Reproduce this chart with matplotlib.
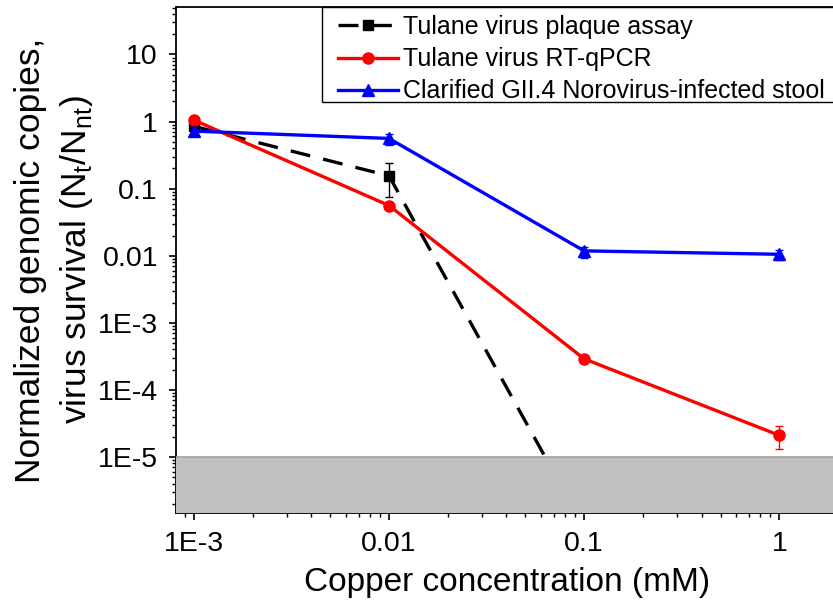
import matplotlib
matplotlib.use("Agg")
import numpy as np
import matplotlib.pyplot as plt
from matplotlib.lines import Line2D
from matplotlib.patches import Rectangle
from matplotlib.ticker import LogLocator, NullFormatter, FixedLocator

plt.rcParams['font.family'] = ['Liberation Sans', 'DejaVu Sans']

# copper concentration (mM)
conc = [0.001, 0.01, 0.1, 1]

# Tulane virus plaque assay (last point is below the detection limit)
plaque_x = [0.001, 0.01, 0.1]
plaque_y = [0.85, 0.155, 9e-7]
plaque_lo = [0.10, 0.08, 0.0]
plaque_hi = [0.10, 0.085, 0.0]

# Tulane virus RT-qPCR
qpcr_y = [1.05, 0.056, 2.9e-4, 2.1e-5]
qpcr_lo = [0.08, 0.008, 0.2e-4, 0.8e-5]
qpcr_hi = [0.08, 0.008, 0.2e-4, 0.8e-5]

# clarified GII.4 norovirus-infected stool
stool_y = [0.72, 0.56, 0.0118, 0.0105]
stool_lo = [0.12, 0.11, 0.0025, 0.002]
stool_hi = [0.08, 0.10, 0.0015, 0.0015]

detection_limit = 1e-5

ytick_vals = [10, 1, 0.1, 0.01, 1e-3, 1e-4, 1e-5]
ytick_labels = ['10', '1', '0.1', '0.01', '1E-3', '1E-4', '1E-5']
xtick_vals = [0.001, 0.01, 0.1, 1]
xtick_labels = ['1E-3', '0.01', '0.1', '1']

W, H = 833, 609
fig = plt.figure(figsize=(W / 100, H / 100), dpi=100)
left, right, top, bottom = 176, 838, 7, 513
ax = fig.add_axes([left / W, 1 - bottom / H, (right - left) / W, (bottom - top) / H])


def ax_frac(xpix, ypix):
    # pixel position on the canvas -> axes fraction
    return (xpix - left) / (right - left), (bottom - ypix) / (bottom - top)


ax.set_xscale('log')
ax.set_yscale('log')
ax.set_xlim(8.1e-4, 2.0)
ax.set_ylim(1.46e-6, 51)

ax.axhspan(ax.get_ylim()[0], detection_limit, color='#c0c0c0', zorder=5, lw=0)
ax.axhline(detection_limit, color='#a0a0a0', lw=1.2, zorder=5)

series = [
    (plaque_x, plaque_y, plaque_lo, plaque_hi, 'black', (0, (6, 4)), 's', 7,
     'Tulane virus plaque assay'),
    (conc, qpcr_y, qpcr_lo, qpcr_hi, '#ff0000', '-', 'o', 8,
     'Tulane virus RT-qPCR'),
    (conc, stool_y, stool_lo, stool_hi, '#0000ff', '-', '^', 9,
     'Clarified GII.4 Norovirus-infected stool'),
]
handles = []
for xs, ys, lo, hi, col, ls, mk, ms, lab in series:
    ax.errorbar(xs, ys, yerr=[lo, hi], color=col, ls=ls, lw=2.4, marker=mk, ms=ms,
                capsize=3, elinewidth=1, zorder=3)
    handles.append(Line2D([], [], color=col, ls=ls, lw=2.4, marker=mk, ms=ms, label=lab))

ax.yaxis.set_major_locator(FixedLocator(ytick_vals))
ax.set_yticklabels(ytick_labels)
ax.yaxis.set_minor_locator(LogLocator(base=10, subs=np.arange(2, 10), numticks=20))
ax.yaxis.set_minor_formatter(NullFormatter())
ax.xaxis.set_major_locator(FixedLocator(xtick_vals))
ax.set_xticklabels(xtick_labels)
ax.xaxis.set_minor_locator(LogLocator(base=10, subs=np.arange(2, 10), numticks=20))
ax.xaxis.set_minor_formatter(NullFormatter())

ax.tick_params(which='major', direction='out', length=5, width=1.2, labelsize=20.5, pad=8)
ax.tick_params(which='minor', direction='out', length=3, width=1)
for s in ax.spines.values():
    s.set_linewidth(1.3)

ax.set_xlabel('Copper concentration (mM)', fontsize=24, labelpad=7)
ax.set_ylabel('Normalized genomic copies,\nvirus survival (N$_\\mathregular{t}$/N$_\\mathregular{nt}$)',
              fontsize=25.5, labelpad=2, linespacing=1.4)

# legend box: white panel with black border, running off the right edge
x0, y0 = ax_frac(322, 102)
x1, y1 = ax_frac(845, top)
ax.add_patch(Rectangle((x0, y0), x1 - x0, y1 - y0, transform=ax.transAxes,
                       facecolor='white', edgecolor='black', lw=1.0, zorder=9,
                       clip_on=False))
leg = ax.legend(handles=handles, loc='upper left', bbox_to_anchor=ax_frac(338, 15),
                borderaxespad=0, borderpad=0, fontsize=18, frameon=False,
                handlelength=2.4, handletextpad=0.2, labelspacing=0.33)
leg.set_zorder(10)

fig.savefig('out.png', dpi=100)
